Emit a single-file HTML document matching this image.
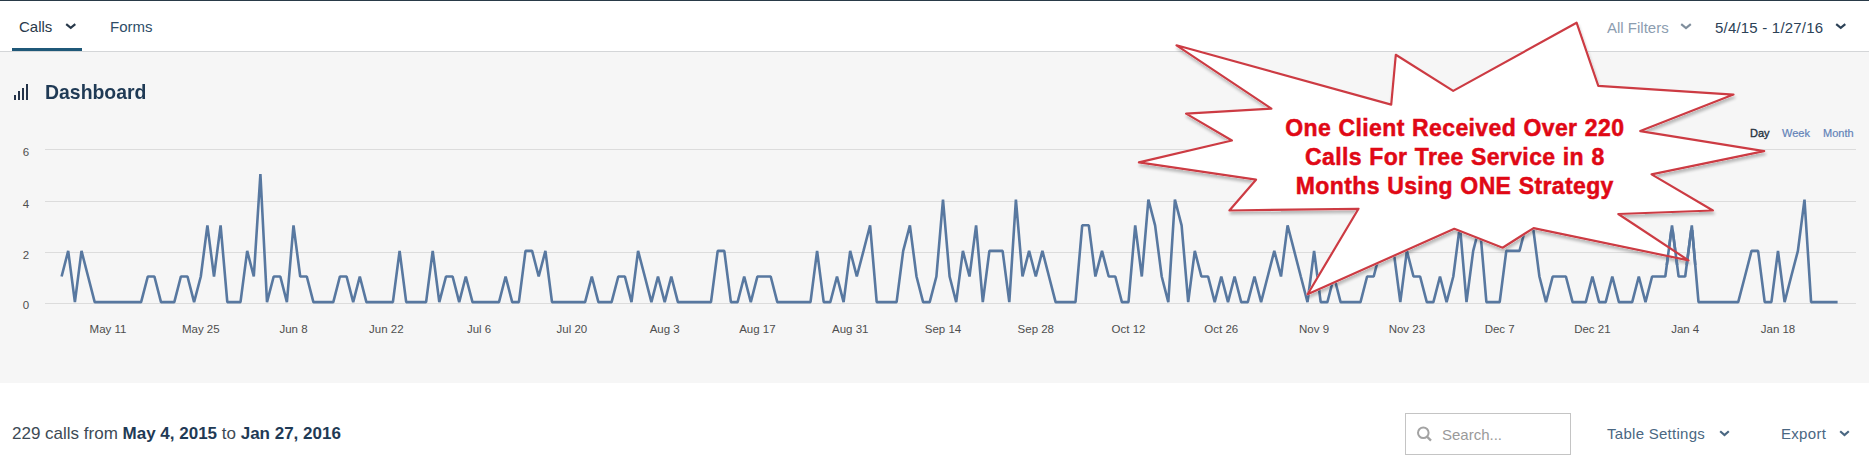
<!DOCTYPE html>
<html><head><meta charset="utf-8"><style>
html,body{margin:0;padding:0}
body{width:1869px;height:465px;position:relative;overflow:hidden;background:#fff;font-family:"Liberation Sans",sans-serif}
.a{position:absolute;white-space:nowrap}
#top{position:absolute;left:0;top:0;width:1869px;height:1px;background:#293a48}
#nav{position:absolute;left:0;top:1px;width:1869px;height:50px;background:#fff;border-bottom:1px solid #d4d6d8}
#grey{position:absolute;left:0;top:52px;width:1869px;height:331px;background:#f6f6f6}
.nv{font-size:15px;line-height:15px}
</style></head><body>
<div id="top"></div>
<div id="nav"></div>
<div class="a nv" style="left:19px;top:19px;color:#28394a">Calls</div>
<svg style="position:absolute;left:65px;top:23.2px" width="11.5" height="6.8" viewBox="0 0 11.5 6.8"><path d="M1.2 1.2 L5.75 4.8 L10.3 1.2" fill="none" stroke="#28394a" stroke-width="2.2"/></svg>
<div class="a nv" style="left:110px;top:19px;color:#2e4d68">Forms</div>
<div class="a" style="left:12px;top:48px;width:70px;height:3px;background:#1f5878"></div>
<div class="a nv" style="left:1607px;top:20px;color:#8c9db0">All Filters</div>
<svg style="position:absolute;left:1679.6px;top:23.2px" width="12" height="7" viewBox="0 0 12 7"><path d="M1.2 1.2 L6.0 5 L10.8 1.2" fill="none" stroke="#7f8e9c" stroke-width="2.2"/></svg>
<div class="a nv" style="left:1715px;top:20px;letter-spacing:0.2px;color:#2c4257">5/4/15 - 1/27/16</div>
<svg style="position:absolute;left:1835px;top:23.2px" width="11.5" height="6.8" viewBox="0 0 11.5 6.8"><path d="M1.2 1.2 L5.75 4.8 L10.3 1.2" fill="none" stroke="#2c4257" stroke-width="2.2"/></svg>
<div id="grey"></div>
<div class="a" style="left:14px;top:95px;width:2px;height:4.5px;background:#25344a"></div>
<div class="a" style="left:18px;top:91px;width:2px;height:8.5px;background:#25344a"></div>
<div class="a" style="left:22px;top:88px;width:2px;height:11.5px;background:#25344a"></div>
<div class="a" style="left:26px;top:84px;width:2px;height:15.5px;background:#25344a"></div>
<div class="a" style="left:45px;top:80px;font-size:21px;font-weight:bold;transform:scaleX(0.925);transform-origin:0 0;color:#1f3a55">Dashboard</div>
<div class="a" style="left:1750px;top:127px;font-size:11px;color:#26323f;-webkit-text-stroke:0.35px #26323f">Day</div>
<div class="a" style="left:1782px;top:127px;font-size:11px;color:#6383b8;-webkit-text-stroke:0.2px #6383b8">Week</div>
<div class="a" style="left:1823px;top:127px;font-size:11px;color:#6383b8;-webkit-text-stroke:0.2px #6383b8">Month</div>
<svg class="a" style="left:0;top:0" width="1869" height="465">
<g stroke="#dcdcdc" stroke-width="1"><line x1="45" x2="1856" y1="149.5" y2="149.5"/><line x1="45" x2="1856" y1="201.5" y2="201.5"/><line x1="45" x2="1856" y1="252.5" y2="252.5"/><line x1="45" x2="1856" y1="303.5" y2="303.5"/></g>
<g font-family="Liberation Sans, sans-serif" font-size="11.5" fill="#4e4e4e" text-anchor="middle"><text x="26" y="156">6</text><text x="26" y="208">4</text><text x="26" y="259">2</text><text x="26" y="309">0</text><text x="108.0" y="333">May 11</text><text x="200.8" y="333">May 25</text><text x="293.5" y="333">Jun 8</text><text x="386.3" y="333">Jun 22</text><text x="479.1" y="333">Jul 6</text><text x="571.9" y="333">Jul 20</text><text x="664.7" y="333">Aug 3</text><text x="757.4" y="333">Aug 17</text><text x="850.2" y="333">Aug 31</text><text x="943.0" y="333">Sep 14</text><text x="1035.8" y="333">Sep 28</text><text x="1128.5" y="333">Oct 12</text><text x="1221.3" y="333">Oct 26</text><text x="1314.1" y="333">Nov 9</text><text x="1406.9" y="333">Nov 23</text><text x="1499.7" y="333">Dec 7</text><text x="1592.4" y="333">Dec 21</text><text x="1685.2" y="333">Jan 4</text><text x="1778.0" y="333">Jan 18</text></g>
<polyline points="61.6,276.5 68.2,250.9 74.9,302.1 81.5,250.9 88.1,276.5 94.7,302.1 101.4,302.1 108.0,302.1 114.6,302.1 121.2,302.1 127.9,302.1 134.5,302.1 141.1,302.1 147.8,276.5 154.4,276.5 161.0,302.1 167.6,302.1 174.3,302.1 180.9,276.5 187.5,276.5 194.1,302.1 200.8,276.5 207.4,225.3 214.0,276.5 220.6,225.3 227.3,302.1 233.9,302.1 240.5,302.1 247.2,250.9 253.8,276.5 260.4,174.1 267.0,302.1 273.7,276.5 280.3,276.5 286.9,302.1 293.5,225.3 300.2,276.5 306.8,276.5 313.4,302.1 320.1,302.1 326.7,302.1 333.3,302.1 339.9,276.5 346.6,276.5 353.2,302.1 359.8,276.5 366.4,302.1 373.1,302.1 379.7,302.1 386.3,302.1 392.9,302.1 399.6,250.9 406.2,302.1 412.8,302.1 419.5,302.1 426.1,302.1 432.7,250.9 439.3,302.1 446.0,276.5 452.6,276.5 459.2,302.1 465.8,276.5 472.5,302.1 479.1,302.1 485.7,302.1 492.4,302.1 499.0,302.1 505.6,276.5 512.2,302.1 518.9,302.1 525.5,250.9 532.1,250.9 538.7,276.5 545.4,250.9 552.0,302.1 558.6,302.1 565.3,302.1 571.9,302.1 578.5,302.1 585.1,302.1 591.8,276.5 598.4,302.1 605.0,302.1 611.6,302.1 618.3,276.5 624.9,276.5 631.5,302.1 638.1,250.9 644.8,276.5 651.4,302.1 658.0,276.5 664.7,302.1 671.3,276.5 677.9,302.1 684.5,302.1 691.2,302.1 697.8,302.1 704.4,302.1 711.0,302.1 717.7,250.9 724.3,250.9 730.9,302.1 737.6,302.1 744.2,276.5 750.8,302.1 757.4,276.5 764.1,276.5 770.7,276.5 777.3,302.1 783.9,302.1 790.6,302.1 797.2,302.1 803.8,302.1 810.5,302.1 817.1,250.9 823.7,302.1 830.3,302.1 837.0,276.5 843.6,302.1 850.2,250.9 856.8,276.5 863.5,250.9 870.1,225.3 876.7,302.1 883.3,302.1 890.0,302.1 896.6,302.1 903.2,250.9 909.9,225.3 916.5,276.5 923.1,302.1 929.7,302.1 936.4,276.5 943.0,199.7 949.6,276.5 956.2,302.1 962.9,250.9 969.5,276.5 976.1,225.3 982.8,302.1 989.4,250.9 996.0,250.9 1002.6,250.9 1009.3,302.1 1015.9,199.7 1022.5,276.5 1029.1,250.9 1035.8,276.5 1042.4,250.9 1049.0,276.5 1055.6,302.1 1062.3,302.1 1068.9,302.1 1075.5,302.1 1082.2,225.3 1088.8,225.3 1095.4,276.5 1102.0,250.9 1108.7,276.5 1115.3,276.5 1121.9,302.1 1128.5,302.1 1135.2,225.3 1141.8,276.5 1148.4,199.7 1155.1,225.3 1161.7,276.5 1168.3,302.1 1174.9,199.7 1181.6,225.3 1188.2,302.1 1194.8,250.9 1201.4,276.5 1208.1,276.5 1214.7,302.1 1221.3,276.5 1228.0,302.1 1234.6,276.5 1241.2,302.1 1247.8,302.1 1254.5,276.5 1261.1,302.1 1267.7,276.5 1274.3,250.9 1281.0,276.5 1287.6,225.3 1294.2,250.9 1300.8,276.5 1307.5,302.1 1314.1,250.9 1320.7,302.1 1327.4,302.1 1334.0,276.5 1340.6,302.1 1347.2,302.1 1353.9,302.1 1360.5,302.1 1367.1,276.5 1373.7,276.5 1380.4,250.9 1387.0,250.9 1393.6,250.9 1400.3,302.1 1406.9,250.9 1413.5,276.5 1420.1,276.5 1426.8,302.1 1433.4,302.1 1440.0,276.5 1446.6,302.1 1453.3,276.5 1459.9,225.3 1466.5,302.1 1473.2,250.9 1479.8,225.3 1486.4,302.1 1493.0,302.1 1499.7,302.1 1506.3,250.9 1512.9,250.9 1519.5,250.9 1526.2,225.3 1532.8,225.3 1539.4,276.5 1546.0,302.1 1552.7,276.5 1559.3,276.5 1565.9,276.5 1572.6,302.1 1579.2,302.1 1585.8,302.1 1592.4,276.5 1599.1,302.1 1605.7,302.1 1612.3,276.5 1618.9,302.1 1625.6,302.1 1632.2,302.1 1638.8,276.5 1645.5,302.1 1652.1,276.5 1658.7,276.5 1665.3,276.5 1672.0,225.3 1678.6,276.5 1685.2,276.5 1691.8,225.3 1698.5,302.1 1705.1,302.1 1711.7,302.1 1718.3,302.1 1725.0,302.1 1731.6,302.1 1738.2,302.1 1744.9,276.5 1751.5,250.9 1758.1,250.9 1764.7,302.1 1771.4,302.1 1778.0,250.9 1784.6,302.1 1791.2,276.5 1797.9,250.9 1804.5,199.7 1811.1,302.1 1817.8,302.1 1824.4,302.1 1831.0,302.1 1837.6,302.1" fill="none" stroke="#5878a0" stroke-width="2.6" stroke-linejoin="bevel"/>
</svg>
<svg class="a" style="left:0;top:0" width="1869" height="465">
<defs><filter id="sh" x="-10%" y="-10%" width="120%" height="120%"><feGaussianBlur in="SourceAlpha" stdDeviation="1.5"/><feOffset dx="1" dy="2.5"/><feComponentTransfer><feFuncA type="linear" slope="0.25"/></feComponentTransfer><feMerge><feMergeNode/><feMergeNode in="SourceGraphic"/></feMerge></filter></defs>
<clipPath id="cm"><rect x="1655" y="230" width="45" height="35"/></clipPath>
<polygon points="1176.5,45.3 1391.2,104.6 1395.8,54.8 1453.2,90.9 1576.6,22.7 1598.3,85.8 1733.5,94.6 1640.3,131.1 1764.2,151.1 1651.6,174.4 1712.9,210.5 1618.3,214.0 1688.5,260.4 1533.6,228.1 1502.6,247.7 1454.3,228.8 1307.6,294.2 1358.5,208.8 1229.4,210.5 1256.0,179.7 1138.9,162.4 1231.9,140.5 1186.1,113.6 1271.4,108.7" fill="#fff" stroke="#fff" stroke-width="2.2" stroke-linejoin="round" filter="url(#sh)"/>
<polyline points="61.6,276.5 68.2,250.9 74.9,302.1 81.5,250.9 88.1,276.5 94.7,302.1 101.4,302.1 108.0,302.1 114.6,302.1 121.2,302.1 127.9,302.1 134.5,302.1 141.1,302.1 147.8,276.5 154.4,276.5 161.0,302.1 167.6,302.1 174.3,302.1 180.9,276.5 187.5,276.5 194.1,302.1 200.8,276.5 207.4,225.3 214.0,276.5 220.6,225.3 227.3,302.1 233.9,302.1 240.5,302.1 247.2,250.9 253.8,276.5 260.4,174.1 267.0,302.1 273.7,276.5 280.3,276.5 286.9,302.1 293.5,225.3 300.2,276.5 306.8,276.5 313.4,302.1 320.1,302.1 326.7,302.1 333.3,302.1 339.9,276.5 346.6,276.5 353.2,302.1 359.8,276.5 366.4,302.1 373.1,302.1 379.7,302.1 386.3,302.1 392.9,302.1 399.6,250.9 406.2,302.1 412.8,302.1 419.5,302.1 426.1,302.1 432.7,250.9 439.3,302.1 446.0,276.5 452.6,276.5 459.2,302.1 465.8,276.5 472.5,302.1 479.1,302.1 485.7,302.1 492.4,302.1 499.0,302.1 505.6,276.5 512.2,302.1 518.9,302.1 525.5,250.9 532.1,250.9 538.7,276.5 545.4,250.9 552.0,302.1 558.6,302.1 565.3,302.1 571.9,302.1 578.5,302.1 585.1,302.1 591.8,276.5 598.4,302.1 605.0,302.1 611.6,302.1 618.3,276.5 624.9,276.5 631.5,302.1 638.1,250.9 644.8,276.5 651.4,302.1 658.0,276.5 664.7,302.1 671.3,276.5 677.9,302.1 684.5,302.1 691.2,302.1 697.8,302.1 704.4,302.1 711.0,302.1 717.7,250.9 724.3,250.9 730.9,302.1 737.6,302.1 744.2,276.5 750.8,302.1 757.4,276.5 764.1,276.5 770.7,276.5 777.3,302.1 783.9,302.1 790.6,302.1 797.2,302.1 803.8,302.1 810.5,302.1 817.1,250.9 823.7,302.1 830.3,302.1 837.0,276.5 843.6,302.1 850.2,250.9 856.8,276.5 863.5,250.9 870.1,225.3 876.7,302.1 883.3,302.1 890.0,302.1 896.6,302.1 903.2,250.9 909.9,225.3 916.5,276.5 923.1,302.1 929.7,302.1 936.4,276.5 943.0,199.7 949.6,276.5 956.2,302.1 962.9,250.9 969.5,276.5 976.1,225.3 982.8,302.1 989.4,250.9 996.0,250.9 1002.6,250.9 1009.3,302.1 1015.9,199.7 1022.5,276.5 1029.1,250.9 1035.8,276.5 1042.4,250.9 1049.0,276.5 1055.6,302.1 1062.3,302.1 1068.9,302.1 1075.5,302.1 1082.2,225.3 1088.8,225.3 1095.4,276.5 1102.0,250.9 1108.7,276.5 1115.3,276.5 1121.9,302.1 1128.5,302.1 1135.2,225.3 1141.8,276.5 1148.4,199.7 1155.1,225.3 1161.7,276.5 1168.3,302.1 1174.9,199.7 1181.6,225.3 1188.2,302.1 1194.8,250.9 1201.4,276.5 1208.1,276.5 1214.7,302.1 1221.3,276.5 1228.0,302.1 1234.6,276.5 1241.2,302.1 1247.8,302.1 1254.5,276.5 1261.1,302.1 1267.7,276.5 1274.3,250.9 1281.0,276.5 1287.6,225.3 1294.2,250.9 1300.8,276.5 1307.5,302.1 1314.1,250.9 1320.7,302.1 1327.4,302.1 1334.0,276.5 1340.6,302.1 1347.2,302.1 1353.9,302.1 1360.5,302.1 1367.1,276.5 1373.7,276.5 1380.4,250.9 1387.0,250.9 1393.6,250.9 1400.3,302.1 1406.9,250.9 1413.5,276.5 1420.1,276.5 1426.8,302.1 1433.4,302.1 1440.0,276.5 1446.6,302.1 1453.3,276.5 1459.9,225.3 1466.5,302.1 1473.2,250.9 1479.8,225.3 1486.4,302.1 1493.0,302.1 1499.7,302.1 1506.3,250.9 1512.9,250.9 1519.5,250.9 1526.2,225.3 1532.8,225.3 1539.4,276.5 1546.0,302.1 1552.7,276.5 1559.3,276.5 1565.9,276.5 1572.6,302.1 1579.2,302.1 1585.8,302.1 1592.4,276.5 1599.1,302.1 1605.7,302.1 1612.3,276.5 1618.9,302.1 1625.6,302.1 1632.2,302.1 1638.8,276.5 1645.5,302.1 1652.1,276.5 1658.7,276.5 1665.3,276.5 1672.0,225.3 1678.6,276.5 1685.2,276.5 1691.8,225.3 1698.5,302.1 1705.1,302.1 1711.7,302.1 1718.3,302.1 1725.0,302.1 1731.6,302.1 1738.2,302.1 1744.9,276.5 1751.5,250.9 1758.1,250.9 1764.7,302.1 1771.4,302.1 1778.0,250.9 1784.6,302.1 1791.2,276.5 1797.9,250.9 1804.5,199.7 1811.1,302.1 1817.8,302.1 1824.4,302.1 1831.0,302.1 1837.6,302.1" clip-path="url(#cm)" fill="none" stroke="#5878a0" stroke-width="2.6" stroke-linejoin="bevel"/>
<polygon points="1176.5,45.3 1391.2,104.6 1395.8,54.8 1453.2,90.9 1576.6,22.7 1598.3,85.8 1733.5,94.6 1640.3,131.1 1764.2,151.1 1651.6,174.4 1712.9,210.5 1618.3,214.0 1688.5,260.4 1533.6,228.1 1502.6,247.7 1454.3,228.8 1307.6,294.2 1358.5,208.8 1229.4,210.5 1256.0,179.7 1138.9,162.4 1231.9,140.5 1186.1,113.6 1271.4,108.7" fill="none" stroke="#cc3b43" stroke-width="2.2" stroke-linejoin="round"/>
<g font-family="Liberation Sans, sans-serif" font-weight="bold" font-size="23" letter-spacing="0.38" word-spacing="0.6" fill="#e00815" stroke="#e00815" stroke-width="0.5" text-anchor="middle">
<text x="1454.8" y="135.6">One Client Received Over 220</text>
<text x="1454.8" y="164.6">Calls For Tree Service in 8</text>
<text x="1454.8" y="194.4">Months Using ONE Strategy</text>
</g>
</svg>
<div class="a" style="left:12px;top:424px;font-size:17px;color:#3d4a55">229 calls from <b style="color:#1f3a55">May 4, 2015</b> to <b style="color:#1f3a55">Jan 27, 2016</b></div>
<div class="a" style="left:1405px;top:413px;width:164px;height:40px;border:1px solid #c4c4c4;background:#fff"></div>
<svg class="a" style="left:1415px;top:426px" width="19" height="18"><circle cx="8.3" cy="6.8" r="5.3" fill="none" stroke="#a3a3a3" stroke-width="2"/><line x1="12" y1="10.6" x2="16" y2="14.6" stroke="#a3a3a3" stroke-width="2.3"/></svg>
<div class="a" style="left:1442px;top:426px;font-size:15px;color:#9a9a9a">Search...</div>
<div class="a" style="left:1607px;top:425px;font-size:15px;letter-spacing:0.28px;color:#4a6782">Table Settings</div>
<svg style="position:absolute;left:1719px;top:430px" width="11" height="7" viewBox="0 0 11 7"><path d="M1.2 1.2 L5.5 5 L9.8 1.2" fill="none" stroke="#4a6782" stroke-width="2.2"/></svg>
<div class="a" style="left:1781px;top:425px;font-size:15px;letter-spacing:0.3px;color:#4a6782">Export</div>
<svg style="position:absolute;left:1839px;top:430px" width="11" height="7" viewBox="0 0 11 7"><path d="M1.2 1.2 L5.5 5 L9.8 1.2" fill="none" stroke="#4a6782" stroke-width="2.2"/></svg>
</body></html>
